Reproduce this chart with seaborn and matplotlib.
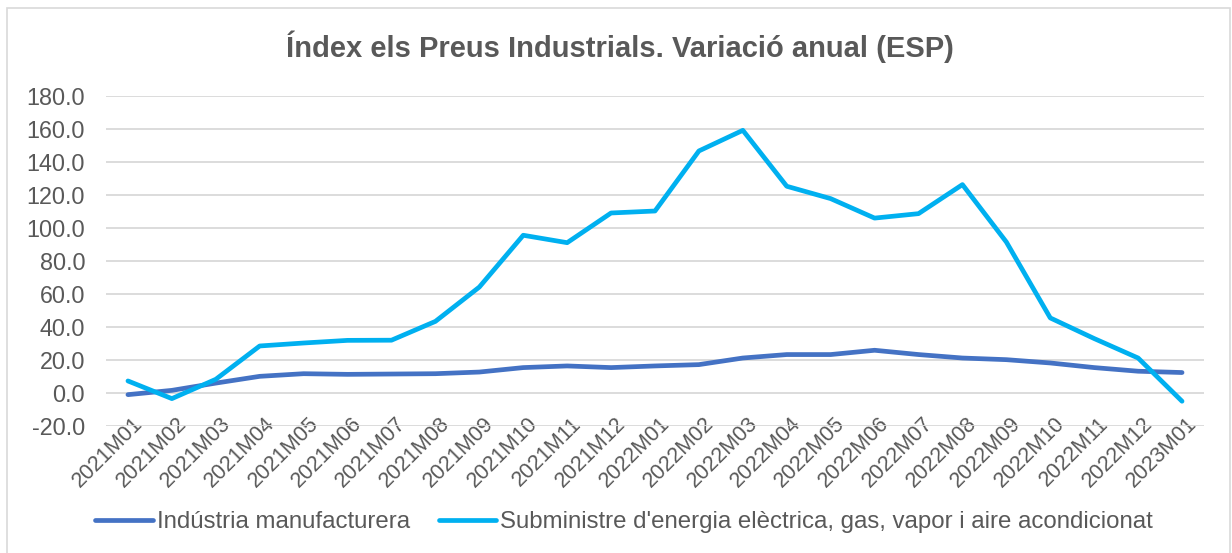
import matplotlib
matplotlib.use("Agg")
import matplotlib.pyplot as plt
import matplotlib.transforms as mtransforms
import seaborn as sns
import pandas as pd
from matplotlib.patches import Rectangle

months = ["2021M01", "2021M02", "2021M03", "2021M04", "2021M05", "2021M06",
          "2021M07", "2021M08", "2021M09", "2021M10", "2021M11", "2021M12",
          "2022M01", "2022M02", "2022M03", "2022M04", "2022M05", "2022M06",
          "2022M07", "2022M08", "2022M09", "2022M10", "2022M11", "2022M12",
          "2023M01"]
industria = [-1.0, 1.6, 6.0, 10.1, 11.7, 11.3, 11.5, 11.7, 12.7, 15.4, 16.4, 15.4,
             16.4, 17.2, 21.2, 23.3, 23.3, 25.9, 23.3, 21.2, 20.2, 18.2, 15.4, 13.2,
             12.4]
energia = [7.3, -3.4, 8.3, 28.5, 30.3, 31.9, 32.0, 43.4, 64.2, 95.6, 91.1, 109.1,
           110.3, 146.7, 159.2, 125.3, 117.8, 106.0, 108.7, 126.3, 91.5, 45.5, 33.0, 21.2,
           -5.0]
series_names = ["Indústria manufacturera",
                "Subministre d'energia elèctrica, gas, vapor i aire acondicionat"]
yticks = [-20, 0, 20, 40, 60, 80, 100, 120, 140, 160, 180]
title = "Índex els Preus Industrials. Variació anual (ESP)"

df = pd.DataFrame({
    "mes": months * 2,
    "valor": industria + energia,
    "serie": [series_names[0]] * len(months) + [series_names[1]] * len(months),
})

sns.set_theme(style="white")
plt.rcParams["font.family"] = ["Liberation Sans", "DejaVu Sans"]

TXT = "#595959"
fig = plt.figure(figsize=(12.32, 5.53), dpi=100)
ax = fig.add_axes([106 / 1232, 1 - 426 / 553, (1204 - 106) / 1232, (426 - 96) / 553])

sns.lineplot(data=df, x="mes", y="valor", hue="serie", sort=False,
             palette=["#4472C4", "#00B0F0"], linewidth=3.4, ax=ax, legend=True)

ax.set_xlim(-0.5, len(months) - 0.5)
ax.set_ylim(-20, 180)
ax.set_yticks(yticks)
ax.set_yticklabels([f"{v:.1f}" for v in yticks])
ax.set_xticks(range(len(months)))
ax.set_xticklabels(months, rotation=45, ha="right", va="top", rotation_mode="anchor")
ax.tick_params(axis="y", length=0, pad=15, labelsize=16.8, labelcolor=TXT)
ax.tick_params(axis="x", length=0, pad=0, labelsize=15.5, labelcolor=TXT)
offset = mtransforms.ScaledTranslation(4 / 100, 13 / 100, fig.dpi_scale_trans)
for lab in ax.get_xticklabels():
    lab.set_transform(lab.get_transform() + offset)
ax.set_xlabel("")
ax.set_ylabel("")
ax.yaxis.grid(True, color="#D9D9D9", linewidth=1.3)
ax.xaxis.grid(False)
for s in ax.spines.values():
    s.set_visible(False)
ax.set_axisbelow(True)

handles, labels = ax.get_legend_handles_labels()
ax.legend_.remove()
fig.legend(handles, labels, loc="center", bbox_to_anchor=(624 / 1232, 1 - 522 / 553),
           ncol=2, frameon=False, fontsize=17.3, labelcolor=TXT,
           handlelength=2.4, handletextpad=0.17, columnspacing=1.2)

fig.text(620 / 1232, 1 - 47 / 553, title, ha="center", va="center",
         fontsize=21, fontweight="bold", color=TXT)

fig.patches.append(Rectangle((7 / 1232, -0.05), (1230 - 7) / 1232, 1.05 - 8 / 553,
                             transform=fig.transFigure, fill=False,
                             edgecolor="#D9D9D9", linewidth=1.2))

fig.savefig("out.png", dpi=100, facecolor="white")
